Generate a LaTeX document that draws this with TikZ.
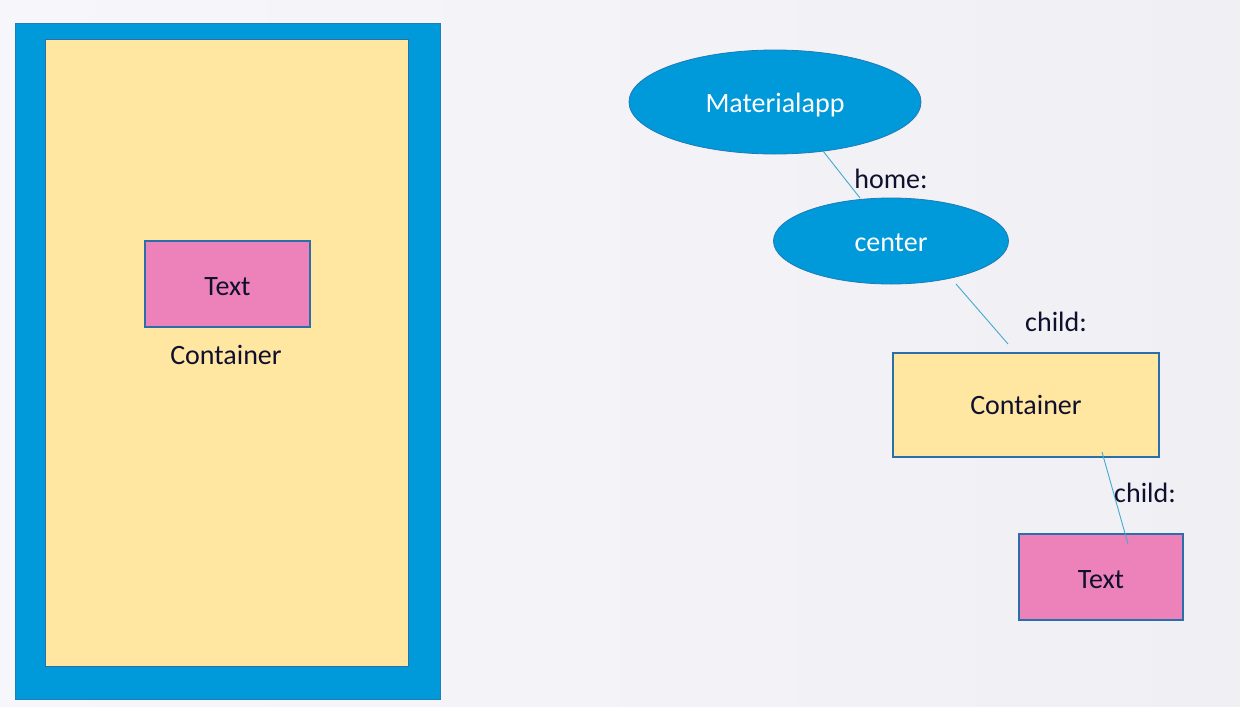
\documentclass[tikz,border=0pt]{standalone}
\usepackage{fontspec}
\setmainfont{Carlito}
\usetikzlibrary{shapes.geometric}
\definecolor{bgL}{HTML}{F6F6FB}
\definecolor{bgR}{HTML}{EFEFF4}
\definecolor{mblue}{HTML}{0099DA}
\definecolor{myellow}{HTML}{FFE6A1}
\definecolor{mpink}{HTML}{EC82B9}
\definecolor{edge}{HTML}{2A6EAA}
\definecolor{ink}{HTML}{10102E}
\definecolor{conn}{HTML}{46AACF}
\tikzset{
  txt/.style={font=\fontsize{28}{32}\selectfont},
  lbl/.style={txt,text=ink,inner sep=0pt},
  oval/.style={ellipse,fill=mblue,draw=edge!70!mblue,line width=0.8pt,text=white,txt,inner sep=0pt},
  ybox/.style={fill=myellow,draw=edge,line width=1.3pt,text=ink,txt},
  pbox/.style={fill=mpink,draw=edge,line width=1.3pt,text=ink,txt}, 
  link/.style={draw=conn,line width=0.9pt}
}
\begin{document}
\begin{tikzpicture}[x=1pt,y=-1pt]
\useasboundingbox (0,0) rectangle (1240,707);
\shade[left color=bgL,right color=bgR] (0,0) rectangle (1240,707);
% left mock-up
\draw[fill=mblue,draw=edge!60!mblue,line width=0.8pt] (15,23) rectangle (440,699);
\draw[fill=myellow,draw=edge,line width=0.8pt] (45,39) rectangle (408,666);
\node[pbox,minimum width=165pt,minimum height=86pt,text height=23pt,text depth=0pt] (ltext) at (227.5,284) {Text};
\node[lbl] (lcont) at (226,355) {Container};
% tree
\node[oval,minimum width=292pt,minimum height=104pt,text height=24pt,text depth=4pt] (mapp) at (775,102) {Materialapp};
\node[oval,minimum width=235pt,minimum height=86pt,text height=20pt,text depth=0pt] (center) at (891,241) {center};
\node[ybox,minimum width=266pt,minimum height=104pt] (cont) at (1026,405) {Container};
\node[pbox,minimum width=164pt,minimum height=86pt,text height=23pt,text depth=0pt] (rtext) at (1101,577) {Text};
\coordinate (a1) at (823,151);
\coordinate (a2) at (860,198);
\coordinate (b1) at (956,284);
\coordinate (b2) at (1008,344);
\coordinate (c1) at (1102,452);
\coordinate (c2) at (1128,544);
\draw[link] (a1) -- (a2);
\draw[link] (b1) -- (b2);
\draw[link] (c1) -- (c2);
\node[lbl] (home) at (891,179) {home:};
\node[lbl] (child1) at (1056,322) {child:};
\node[lbl] (child2) at (1145,493) {child:};
\end{tikzpicture}
\end{document}
